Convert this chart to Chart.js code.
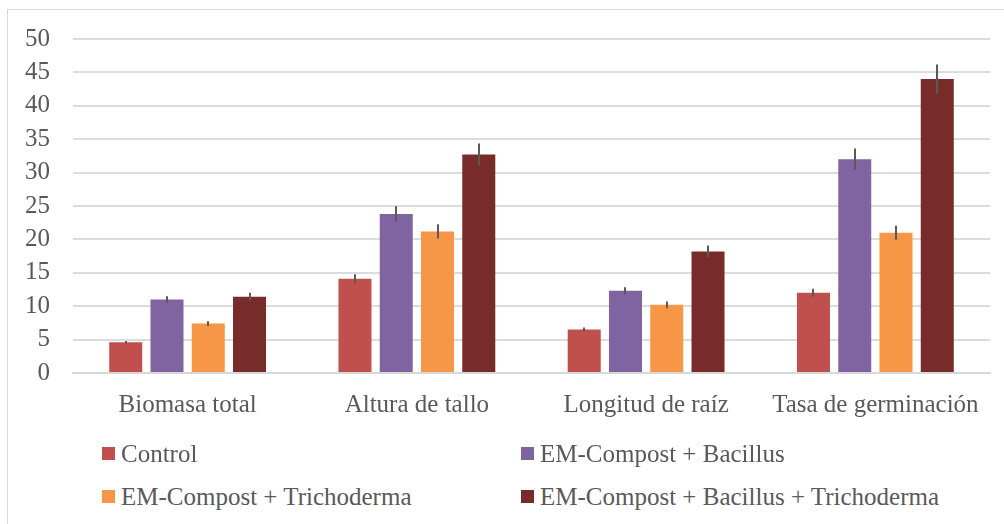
<!DOCTYPE html>
<html>
<head>
<meta charset="utf-8">
<script src="https://cdn.jsdelivr.net/npm/chart.js@4"></script>
<style>
  body { margin: 0; background: #fff; }
  #frame { position: absolute; left: 7px; top: 9px; width: 1010px; height: 530px; border: 1px solid #d9d9d9; }
  #wrap { position: absolute; left: 0; top: 0; width: 1004px; height: 448px; }
  #legend { position: absolute; left: 0; top: 0; font-family: "Liberation Serif", serif; font-size: 25px; color: #595959; }
  .item { position: absolute; white-space: nowrap; line-height: 30px; }
  .item span.box { position: absolute; width: 13px; height: 13px; top: 8px; left: -19px; }
</style>
</head>
<body>
<div id="frame"></div>
<div id="wrap"><canvas id="grafico"></canvas></div>
<div id="legend"></div>
<script>
const categorias = ["Biomasa total", "Altura de tallo", "Longitud de raíz", "Tasa de germinación"];
const ticksY = [0, 5, 10, 15, 20, 25, 30, 35, 40, 45, 50];

const control = [4.6, 14.1, 6.5, 12.0];
const errControl = [0.2, 0.7, 0.3, 0.6];
const bacillus = [11.0, 23.8, 12.3, 32.0];
const errBacillus = [0.5, 1.15, 0.55, 1.6];
const trichoderma = [7.4, 21.2, 10.2, 21.0];
const errTrichoderma = [0.35, 1.05, 0.5, 1.05];
const combinado = [11.4, 32.7, 18.2, 44.0];
const errCombinado = [0.6, 1.65, 0.9, 2.2];

const series = [
  { label: "Control", data: control, err: errControl, color: "#c0504d" },
  { label: "EM-Compost + Bacillus", data: bacillus, err: errBacillus, color: "#8064a2" },
  { label: "EM-Compost + Trichoderma", data: trichoderma, err: errTrichoderma, color: "#f79646" },
  { label: "EM-Compost + Bacillus + Trichoderma", data: combinado, err: errCombinado, color: "#772c2a" }
];

const fuente = { family: "'Liberation Serif', serif", size: 25 };

// barras de error verticales, sin remate
const barrasError = {
  id: "barrasError",
  afterDatasetsDraw(chart) {
    const ctx = chart.ctx;
    const y = chart.scales.y;
    ctx.save();
    ctx.strokeStyle = "#595959";
    ctx.lineWidth = 2;
    chart.data.datasets.forEach((ds, i) => {
      const meta = chart.getDatasetMeta(i);
      meta.data.forEach((bar, j) => {
        const v = ds.data[j];
        const e = ds.err[j];
        ctx.beginPath();
        ctx.moveTo(Math.round(bar.x), y.getPixelForValue(v + e));
        ctx.lineTo(Math.round(bar.x), y.getPixelForValue(v - e));
        ctx.stroke();
      });
    });
    ctx.restore();
  }
};

new Chart(document.getElementById("grafico"), {
  type: "bar",
  data: {
    labels: categorias,
    datasets: series.map(s => ({
      label: s.label,
      data: s.data,
      err: s.err,
      backgroundColor: s.color,
      borderWidth: 0,
      barPercentage: 0.8,
      categoryPercentage: 0.72
    }))
  },
  options: {
    responsive: true,
    maintainAspectRatio: false,
    animation: false,
    layout: { padding: { top: 39, right: 14, bottom: 11, left: 0 } },
    plugins: { legend: { display: false }, tooltip: { enabled: false } },
    scales: {
      x: {
        grid: { display: false, drawTicks: false },
        border: { display: true, color: "#d9d9d9", width: 2 },
        ticks: { font: fuente, color: "#595959", padding: 17 }
      },
      y: {
        min: 0,
        max: 50,
        afterFit(scale) { scale.width = 73; },
        afterBuildTicks(scale) { scale.ticks = ticksY.map(v => ({ value: v })); },
        grid: { color: "#dcdcdc", lineWidth: 2, drawTicks: false },
        border: { display: false },
        ticks: { font: fuente, color: "#595959", padding: 23, autoSkip: false }
      }
    }
  },
  plugins: [barrasError]
});

const legend = document.getElementById("legend");
const posiciones = [[121, 439], [540, 439], [121, 482], [540, 482]];
series.forEach((s, i) => {
  const d = document.createElement("div");
  d.className = "item";
  d.style.left = posiciones[i][0] + "px";
  d.style.top = posiciones[i][1] + "px";
  d.innerHTML = '<span class="box" style="background:' + s.color + '"></span>' + s.label;
  legend.appendChild(d);
});
</script>
</body>
</html>
